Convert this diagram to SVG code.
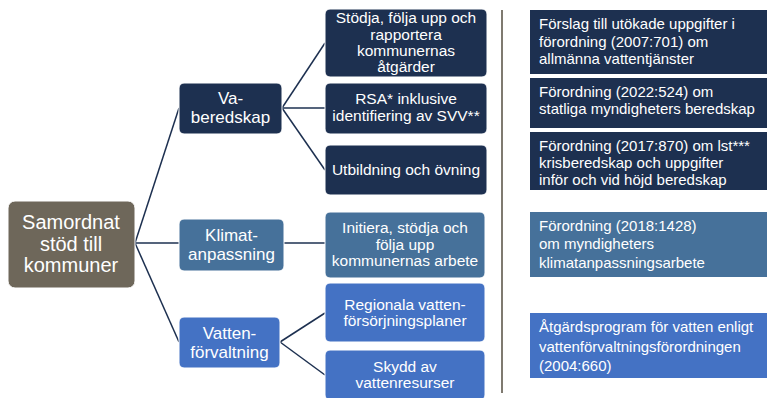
<svg xmlns="http://www.w3.org/2000/svg" width="767" height="398" viewBox="0 0 767 398">
<style>
text{font-family:"Liberation Sans",Arial,sans-serif;fill:#fff}
.c{text-anchor:middle}
.l0{font-size:20px}
.l1{font-size:17px}
.l2{font-size:15.5px}
.r{font-size:15px}
.navy{fill:#1D3050}
.steel{fill:#46719A}
.blue{fill:#4472C4}
.bx{stroke:#fff;stroke-width:1}
.conn line{stroke:#1D3050;stroke-width:1.5}
</style>
<rect width="767" height="398" fill="#fff"/>
<g class="conn">
<line x1="135" y1="243" x2="179" y2="108"/>
<line x1="135" y1="243" x2="179" y2="243"/>
<line x1="135" y1="243" x2="179" y2="342"/>
<line x1="282" y1="108" x2="325" y2="43"/>
<line x1="282" y1="108" x2="325" y2="108"/>
<line x1="282" y1="108" x2="325" y2="170"/>
<line x1="284" y1="243" x2="325" y2="243"/>
<line x1="280" y1="342" x2="325" y2="313"/>
<line x1="280" y1="342" x2="325" y2="375"/>
</g>
<line x1="502" y1="10" x2="502" y2="393" stroke="#7F7A70" stroke-width="2"/>
<g id="root">
<rect x="8" y="201" width="127" height="87" rx="7" fill="#6E675A" class="bx"/>
<text class="c l0" x="71" y="229">Samordnat</text>
<text class="c l0" x="71" y="251">stöd till</text>
<text class="c l0" x="71" y="272">kommuner</text>
</g>
<g id="va">
<rect x="179" y="83" width="103" height="51" rx="5" class="navy bx"/>
<text class="c l1" x="230.5" y="104">Va-</text>
<text class="c l1" x="230.5" y="122.5">beredskap</text>
</g>
<g id="klimat">
<rect x="179" y="219" width="105" height="52" rx="5" class="steel bx"/>
<text class="c l1" x="231.5" y="241">Klimat-</text>
<text class="c l1" x="231.5" y="259.5">anpassning</text>
</g>
<g id="vatten">
<rect x="179" y="317" width="101" height="51" rx="5" class="blue bx"/>
<text class="c l1" x="229.5" y="339">Vatten-</text>
<text class="c l1" x="229.5" y="357.5">förvaltning</text>
</g>
<g id="stodja">
<rect x="325" y="9" width="162" height="68" rx="5" class="navy bx"/>
<text class="c l2" x="406" y="23">Stödja, följa upp och</text>
<text class="c l2" x="406" y="39.5">rapportera</text>
<text class="c l2" x="406" y="56">kommunernas</text>
<text class="c l2" x="406" y="72">åtgärder</text>
</g>
<g id="rsa">
<rect x="325" y="83" width="162" height="51" rx="5" class="navy bx"/>
<text class="c l2" x="406" y="104">RSA* inklusive</text>
<text class="c l2" x="406" y="121">identifiering av SVV**</text>
</g>
<g id="utb">
<rect x="325" y="145" width="162" height="50" rx="5" class="navy bx"/>
<text class="c l2" x="406" y="175">Utbildning och övning</text>
</g>
<g id="initiera">
<rect x="325" y="212" width="160" height="66" rx="5" class="steel bx"/>
<text class="c l2" x="405" y="233">Initiera, stödja och</text>
<text class="c l2" x="405" y="250">följa upp</text>
<text class="c l2" x="405" y="266">kommunernas arbete</text>
</g>
<g id="regionala">
<rect x="325" y="283" width="160" height="59" rx="5" class="blue bx"/>
<text class="c l2" x="405" y="310">Regionala vatten-</text>
<text class="c l2" x="405" y="326">försörjningsplaner</text>
</g>
<g id="skydd">
<rect x="325" y="350" width="160" height="50" rx="5" class="blue bx"/>
<text class="c l2" x="405" y="372">Skydd av</text>
<text class="c l2" x="405" y="388">vattenresurser</text>
</g>
<g id="r1">
<rect x="530" y="10" width="237" height="64" class="navy"/>
<text class="r" x="539" y="29">Förslag till utökade uppgifter i</text>
<text class="r" x="539" y="47">förordning (2007:701) om</text>
<text class="r" x="539" y="64">allmänna vattentjänster</text>
</g>
<g id="r2">
<rect x="530" y="78" width="237" height="50" class="navy"/>
<text class="r" x="539" y="97">Förordning (2022:524) om</text>
<text class="r" x="539" y="114">statliga myndigheters beredskap</text>
</g>
<g id="r3">
<rect x="530" y="132" width="237" height="58" class="navy"/>
<text class="r" x="539" y="151">Förordning (2017:870) om lst***</text>
<text class="r" x="539" y="168">krisberedskap och uppgifter</text>
<text class="r" x="539" y="185">inför och vid höjd beredskap</text>
</g>
<g id="r4">
<rect x="530" y="212" width="237" height="65" class="steel"/>
<text class="r" x="539" y="231">Förordning (2018:1428)</text>
<text class="r" x="539" y="249">om myndigheters</text>
<text class="r" x="539" y="268">klimatanpassningsarbete</text>
</g>
<g id="r5">
<rect x="530" y="313" width="237" height="65" class="blue"/>
<text class="r" x="539" y="332">Åtgärdsprogram för vatten enligt</text>
<text class="r" x="539" y="352">vattenförvaltningsförordningen</text>
<text class="r" x="539" y="371">(2004:660)</text>
</g>
</svg>
